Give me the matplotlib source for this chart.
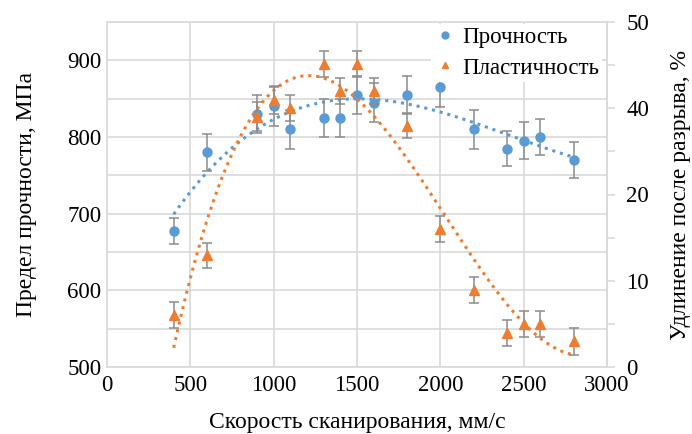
import numpy as np
import matplotlib
matplotlib.use("Agg")
import matplotlib.pyplot as plt
from matplotlib.lines import Line2D

# ---- data ----
speed = [400, 600, 900, 1000, 1100, 1300, 1400, 1500, 1600, 1800, 2000, 2200, 2400, 2500, 2600, 2800]
strength = [678, 780, 830, 840, 810, 825, 825, 855, 845, 855, 865, 810, 785, 795, 800, 770]
strength_err = [17, 24, 25, 25, 25, 25, 25, 25, 25, 25, 26, 25, 23, 24, 23, 23]
plasticity = [7.5, 16.2, 36.3, 38.7, 37.5, 43.9, 40.0, 43.9, 40.0, 35.0, 20.0, 11.2, 4.9, 6.2, 6.2, 3.7]
plasticity_err = [1.9, 1.8, 2.1, 2.0, 1.9, 1.9, 1.9, 1.9, 1.9, 1.8, 1.9, 1.9, 1.9, 1.9, 1.9, 2.0]
x_ticks = [0, 500, 1000, 1500, 2000, 2500, 3000]
left_ticks = [500, 600, 700, 800, 900]
right_ticklabels = ['0', '10', '20', '40', '50']

labels = ['Прочность', 'Пластичность']
xlabel = 'Скорость сканирования, мм/с'
ylabel_left = 'Предел прочности, МПа'
ylabel_right = 'Удлинение после разрыва, %'

BLUE = '#5B9BD5'
ORANGE = '#ED7D31'
GRID = '#D9D9D9'
ERR = '#8C8C8C'

plt.rcParams['font.family'] = ['Liberation Serif', 'DejaVu Serif']
FS = 16.5
LFS = 17

fig = plt.figure(figsize=(6.92, 4.34), dpi=100)
ax = fig.add_axes([107/692, 1-367/434, 500/692, 345/434])
ax2 = ax.twinx()

# grid
ax.set_xlim(0, 3000)
ax.set_ylim(500, 950)
ax.set_xticks(x_ticks)
ax.set_xticklabels([str(v) for v in x_ticks], fontsize=FS)
ax.set_yticks(left_ticks)
ax.set_yticklabels([str(v) for v in left_ticks], fontsize=FS)
ax.set_yticks(np.arange(550, 951, 100), minor=True)
ax.grid(True, which='both', color=GRID, linewidth=1.2)
ax.tick_params(axis='both', which='both', length=0, pad=6)
ax.tick_params(axis='y', pad=4)
for s in ['left', 'bottom', 'right', 'top']:
    ax.spines[s].set_color(GRID)
    ax.spines[s].set_linewidth(1.2)
ax.set_axisbelow(True)

# right axis
ax2.set_ylim(0, 50)
ax2.set_yticks(np.linspace(0, 50, 5))
ax2.set_yticklabels(right_ticklabels, fontsize=FS)
ax2.set_yticks(np.linspace(6.25, 43.75, 4), minor=True)
ax2.tick_params(axis='y', which='both', direction='out', length=6, color=GRID, width=1.2, pad=8)
for s in ['left', 'bottom', 'right', 'top']:
    ax2.spines[s].set_visible(False)
ax2.spines['right'].set_visible(True)
ax2.spines['right'].set_color(GRID)
ax2.spines['right'].set_linewidth(1.2)

# trendlines (cubic polynomial fits of the data)
xs = np.linspace(min(speed), max(speed), 200)
pb = np.polyfit(speed, strength, 3)
po = np.polyfit(speed, plasticity, 3)
ax.plot(xs, np.polyval(pb, xs), linestyle=(0, (1, 1.6)), color=BLUE, linewidth=2.2, zorder=2)
ax2.plot(xs, np.polyval(po, xs), linestyle=(0, (1, 1.6)), color=ORANGE, linewidth=2.2, zorder=2)

# points
ax.errorbar(speed, strength, yerr=strength_err, fmt='o', color=BLUE, markersize=6.5,
            ecolor=ERR, elinewidth=1.1, capsize=3.5, capthick=1.1, zorder=3)
ax2.errorbar(speed, plasticity, yerr=plasticity_err, fmt='^', color=ORANGE, markersize=7,
             ecolor=ERR, elinewidth=1.1, capsize=3.5, capthick=1.1, zorder=3)

ax.set_xlabel(xlabel, fontsize=LFS, labelpad=11)
ax.set_ylabel(ylabel_left, fontsize=LFS, labelpad=22)
ax2.set_ylabel(ylabel_right, fontsize=LFS, labelpad=15)

handles = [Line2D([], [], marker='o', linestyle='none', color=BLUE, markersize=5),
           Line2D([], [], marker='^', linestyle='none', color=ORANGE, markersize=5)]
leg = ax2.legend(handles, labels, loc='upper right', bbox_to_anchor=(1.0, 1.008),
                 fontsize=FS, frameon=True,
                 framealpha=1, edgecolor='white', handletextpad=0.3, handlelength=0.9,
                 borderaxespad=0.2, labelspacing=0.4, borderpad=0.15)
leg.get_frame().set_linewidth(0)

fig.savefig('out.png', dpi=100)
